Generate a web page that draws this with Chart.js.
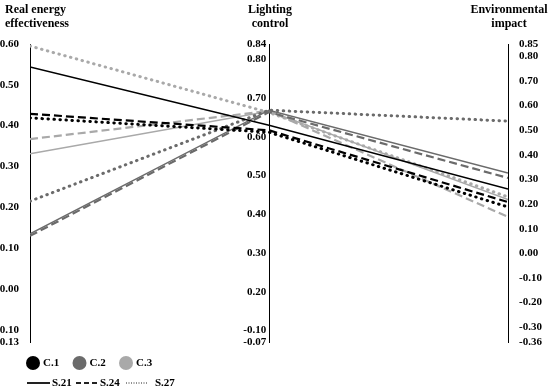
<!DOCTYPE html>
<html>
<head>
<meta charset="utf-8">
<script src="https://cdn.jsdelivr.net/npm/chart.js@4.4.0/dist/chart.umd.min.js"></script>
<style>
  html, body { margin: 0; padding: 0; background: #fff; }
  #wrap { width: 550px; height: 391px; position: relative; }
</style>
</head>
<body>
<div id="wrap"><canvas id="parallel" width="550" height="391"></canvas></div>
<script>
// ====== data ======
const axisTitles = [['Real energy', 'effectiveness'], ['Lighting', 'control'], ['Environmental', 'impact']];
const categories = ['C.1', 'C.2', 'C.3'];
const scenarios = ['S.21', 'S.24', 'S.27'];

// one value per series, order: C.1 S.21, C.1 S.24, C.1 S.27, C.2 S.21 ... C.3 S.27
const energyValues   = [0.544, 0.429, 0.419, 0.135, 0.130, 0.215, 0.331, 0.367, 0.595];
const lightingValues = [0.630, 0.617, 0.612, 0.669, 0.664, 0.669, 0.666, 0.667, 0.663];
const impactValues   = [0.261, 0.208, 0.188, 0.326, 0.306, 0.537, 0.218, 0.148, 0.229];

const energyTicks = [0.60, 0.50, 0.40, 0.30, 0.20, 0.10, 0.00, -0.10, -0.13];
const lightingTicks = [0.84, 0.80, 0.70, 0.60, 0.50, 0.40, 0.30, 0.20, 0.10, 0.07];
const lightingTickLabels = ['0.84', '0.80', '0.70', '0.60', '0.50', '0.40', '0.30', '0.20', '-0.10', '-0.07'];
const impactTicks = [0.85, 0.80, 0.70, 0.60, 0.50, 0.40, 0.30, 0.20, 0.10, 0.00, -0.10, -0.20, -0.30, -0.36];

const axisRanges = [[-0.13, 0.60], [0.07, 0.84], [-0.36, 0.85]];

// ====== styles ======
const catColors = ['#000000', '#6b6b6b', '#a9a9a9'];
const dashes = [[], [8, 4], [0.5, 5.5]];
const widths = [1.5, 2.2, 3];
const tickFont = { family: 'Liberation Serif', size: 11, weight: 'bold' };

function norm(v, k) {
  const [lo, hi] = axisRanges[k];
  return (v - lo) / (hi - lo);
}

const datasets = [];
categories.forEach(function(cat, c) {
  scenarios.forEach(function(sc, s) {
    const i = c * 3 + s;
    datasets.push({
      label: cat + ' ' + sc,
      data: [
        { x: 0, y: norm(energyValues[i], 0) },
        { x: 1, y: norm(lightingValues[i], 1) },
        { x: 2, y: norm(impactValues[i], 2) }
      ],
      borderColor: catColors[c],
      borderWidth: widths[s],
      borderDash: dashes[s],
      borderCapStyle: s === 2 ? 'round' : 'butt',
      pointRadius: 0,
      tension: 0,
      yAxisID: 'n'
    });
  });
});

function valueAxis(pos, k, ticks, width, labels) {
  return {
    type: 'linear',
    position: pos,
    min: axisRanges[k][0],
    max: axisRanges[k][1],
    afterFit: width ? function(s) { s.width = width; } : undefined,
    afterBuildTicks: function(s) { s.ticks = ticks.map(v => ({ value: v })); },
    grid: { display: false },
    border: { color: '#000', width: 1 },
    ticks: {
      autoSkip: false,
      color: '#000',
      font: tickFont,
      padding: 3,
      callback: function(v, idx) { return labels ? labels[idx] + ' ' : Number(v).toFixed(2); }
    }
  };
}

const extras = {
  id: 'extras',
  afterDraw(chart) {
    const ctx = chart.ctx;
    const sx = chart.scales.x;
    ctx.save();
    ctx.fillStyle = '#000';
    ctx.font = 'bold 12px "Liberation Serif"';
    ctx.textBaseline = 'middle';
    axisTitles.forEach(function(lines, k) {
      const px = sx.getPixelForValue(k);
      lines.forEach(function(t, j) {
        const y = 10 + j * 14;
        if (k === 0) { ctx.textAlign = 'left'; ctx.fillText(t, 5, y); }
        else { ctx.textAlign = 'center'; ctx.fillText(t, px + 1, y); }
      });
    });

    // legend
    ctx.font = 'bold 11px "Liberation Serif"';
    ctx.textAlign = 'left';
    categories.forEach(function(cat, c) {
      const cx = 33 + c * 46.5;
      ctx.beginPath();
      ctx.arc(cx, 363, 7, 0, Math.PI * 2);
      ctx.fillStyle = catColors[c];
      ctx.fill();
      ctx.fillStyle = '#000';
      ctx.fillText(cat, cx + 10, 363);
    });
    const sampleX = [[27, 50], [76, 97], [126, 148]];
    const sampleDash = [[], [5, 3], [1, 1.5]];
    const sampleW = [2, 2, 1];
    const textX = [52, 100, 155];
    scenarios.forEach(function(sc, s) {
      ctx.beginPath();
      ctx.setLineDash(sampleDash[s]);
      ctx.lineWidth = sampleW[s];
      ctx.strokeStyle = '#222';
      ctx.moveTo(sampleX[s][0], 383);
      ctx.lineTo(sampleX[s][1], 383);
      ctx.stroke();
      ctx.fillStyle = '#000';
      ctx.fillText(sc, textX[s], 383);
    });
    ctx.restore();
  }
};

new Chart(document.getElementById('parallel').getContext('2d'), {
  type: 'line',
  data: { datasets: datasets },
  options: {
    responsive: false,
    animation: false,
    layout: { padding: { top: 44, bottom: 49, left: 0, right: 0 } },
    plugins: { legend: { display: false }, tooltip: { enabled: false } },
    scales: {
      x: { type: 'linear', min: 0, max: 2, display: false },
      n: { type: 'linear', axis: 'y', min: 0, max: 1, display: false },
      yL: valueAxis('left', 0, energyTicks, 30),
      yM: valueAxis({ x: 1 }, 1, lightingTicks, 0, lightingTickLabels),
      yR: valueAxis('right', 2, impactTicks, 42)
    }
  },
  plugins: [extras]
});
</script>
</body>
</html>
